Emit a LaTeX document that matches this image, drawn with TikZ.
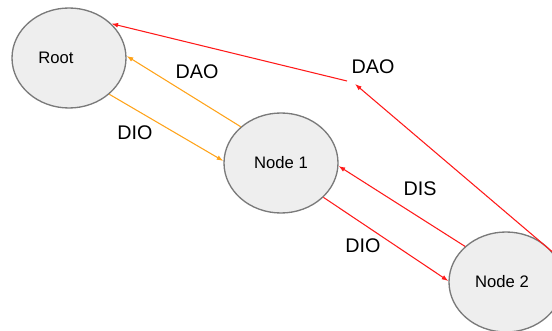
\documentclass[tikz,border=0pt]{standalone}
\usepackage{fontspec}
\setmainfont{Liberation Sans}
\usetikzlibrary{arrows.meta,shapes.geometric}
\definecolor{nodefill}{HTML}{EEEEEE}
\definecolor{nodeline}{HTML}{7A7A7A}
\definecolor{ctrlred}{HTML}{FF1A1A}
\definecolor{ctrlorange}{HTML}{FFA31A}
\begin{document}
\begin{tikzpicture}[x=0.75pt,y=-0.75pt,
  peer/.style={ellipse, draw=nodeline, line width=1pt, fill=nodefill,
    minimum width=85.5pt, minimum height=75pt, inner sep=0pt},
  peertext/.style={font=\fontsize{12.5}{15}\selectfont, inner sep=0pt},
  msg/.style={line width=0.8pt, -{Latex[length=5pt,width=3.6pt]}},
  tag/.style={font=\fontsize{14.8}{17}\selectfont, inner sep=0pt}]
\useasboundingbox (0,0) rectangle (552,331);
\clip (0,0) rectangle (552,331);

% RPL peers
\node[peer, label={[peertext, xshift=-9.75pt]center:Root}] (root) at (69,58) {};
\node[peer, label={[peertext]center:Node 1}] (n1) at (281,163) {};
\node[peer, label={[peertext, xshift=-3pt]center:Node 2}] (n2) at (506,282) {};

% bend of the long DAO route
\coordinate (bendin) at (355,84);
\coordinate (bendout) at (347,81);

% control messages between Root and Node 1
\draw[msg, ctrlorange] (n1.138.7) -- (root.2);
\draw[msg, ctrlorange] (root.-42) -- (n1.178);

% control messages between Node 1 and Node 2
\draw[msg, ctrlred] (n2.139.5) -- (n1.-3);
\draw[msg, ctrlred] (n1.-39.8) -- (n2.179);

% DAO from Node 2 up to Root
\draw[msg, ctrlred] (n2.33.4) -- (bendin);
\draw[msg, ctrlred] (bendout) -- (root.39.7);

% message labels
\node[tag] (daoA) at (197,72) {DAO};
\node[tag] (dioA) at (135,133) {DIO};
\node[tag] (daoB) at (373,67) {DAO};
\node[tag] (disB) at (420,189) {DIS};
\node[tag] (dioB) at (363,246) {DIO};
\end{tikzpicture}
\end{document}
